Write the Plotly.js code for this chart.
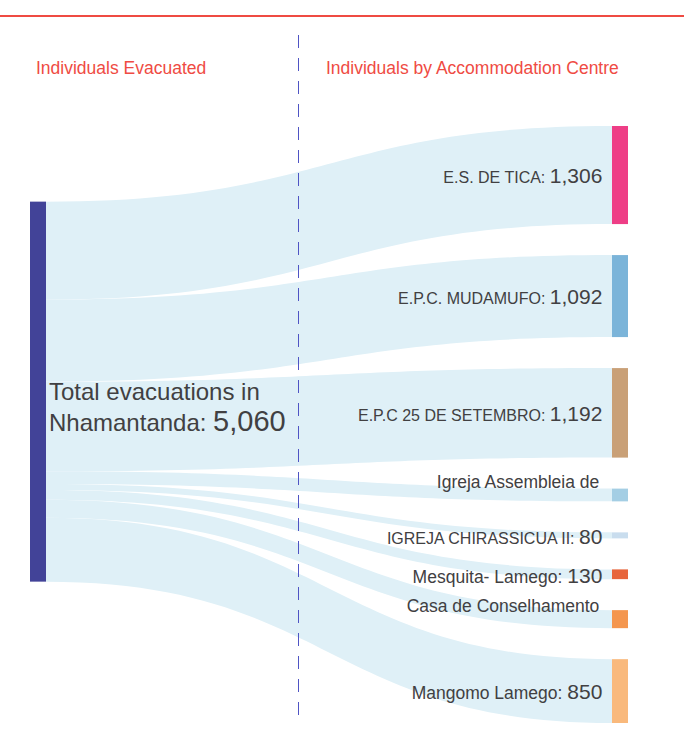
<!DOCTYPE html>
<html>
<head>
<meta charset="utf-8">
<script src="https://cdn.plot.ly/plotly-3.0.1.min.js"></script>
<style>
  html, body { margin: 0; padding: 0; background: #ffffff; }
  #chart { width: 684px; height: 740px; }
</style>
</head>
<body>
<div id="chart"></div>
<script>
// ---- data ----
const sourceLines = ["Total evacuations in", "Nhamantanda"];
const sourceTotal = 5060;
const centreNames = [
  "E.S. DE TICA",
  "E.P.C. MUDAMUFO",
  "E.P.C 25 DE SETEMBRO",
  "Igreja Assembleia de",
  "IGREJA CHIRASSICUA II",
  "Mesquita- Lamego",
  "Casa de Conselhamento",
  "Mangomo Lamego"
];
const centreValues = [1306, 1092, 1192, 170, 80, 130, 240, 850];
const valueShown = [true, true, true, false, true, true, false, true];
const headerLeft = "Individuals Evacuated";
const headerRight = "Individuals by Accommodation Centre";

// ---- styling ----
const nodeColors = ["#424398", "#ee3e86", "#7bb4d9", "#c9a077", "#a4cee4", "#c9ddee", "#e7653c", "#f4964e", "#f9b97c"];
const linkColor = "#dff0f7";
const red = "#ef4b43";
const textColor = "#414042";
const FONT = "'Liberation Sans', Arial, sans-serif";
const NBSP = "\u00a0";

const fmt = v => v.toLocaleString("en-US");
// condensed original font: upper-case names are relatively narrower
const nameSize = n => (n === n.toUpperCase() ? 16 : 17.5);

const labels = [
  NBSP + "<br>" + sourceLines[0] + "<br>" + sourceLines[1] + ': <span style="font-size:29px">' + fmt(sourceTotal) + "</span>"
].concat(centreNames.map((n, i) =>
  valueShown[i]
    ? '<span style="font-size:' + nameSize(n) + 'px">' + n + ': </span><span style="font-size:21px">' + fmt(centreValues[i]) + "</span>" + NBSP
    : '<span style="font-size:' + nameSize(n) + 'px">' + n + NBSP + NBSP + "</span><br>" + NBSP
));

const sources = centreValues.map(() => 0);
const targets = centreValues.map((_, i) => i + 1);

// ---- geometry (pixels) ----
const W = 684, H = 740;
const plotLeft = 30, plotRight = 628, plotTop = 126, plotBottom = 723;
const thick = 16, pad = 31;
const domW = plotRight - plotLeft, domH = plotBottom - plotTop;
const px = x => x / W;
const py = y => 1 - y / H;

// node positions follow the same value scale the sankey layout uses
const ky = (domH - (centreValues.length - 1) * pad) / sourceTotal;
const nodeX = [thick / 2 / domW], nodeY = [];
let acc = 0, weighted = 0;
centreValues.forEach((v, i) => {
  const centre = acc + v * ky / 2;
  nodeX.push((domW - thick / 2) / domW);
  nodeY.push(centre / domH);
  weighted += centre * v;
  acc += v * ky + pad;
});
nodeY.unshift(weighted / sourceTotal / domH);

const trace = {
  type: "sankey",
  orientation: "h",
  arrangement: "fixed",
  domain: { x: [px(plotLeft), px(plotRight)], y: [py(plotBottom), py(plotTop)] },
  hoverinfo: "none",
  textfont: { family: FONT, size: 24, color: textColor, shadow: "none" },
  node: {
    label: labels,
    color: nodeColors,
    x: nodeX,
    y: nodeY,
    pad: pad,
    thickness: thick,
    line: { width: 0 },
    hoverinfo: "none"
  },
  link: {
    source: sources,
    target: targets,
    value: centreValues,
    color: centreValues.map(() => linkColor),
    line: { width: 0 },
    hoverinfo: "none"
  }
};

const layout = {
  width: W,
  height: H,
  margin: { l: 0, r: 0, t: 0, b: 0 },
  paper_bgcolor: "#ffffff",
  plot_bgcolor: "#ffffff",
  font: { family: FONT, color: textColor },
  showlegend: false,
  shapes: [
    { type: "line", xref: "paper", yref: "paper", x0: 0, x1: 1, y0: py(16), y1: py(16),
      line: { color: red, width: 2 }, layer: "above" },
    { type: "line", xref: "paper", yref: "paper", x0: px(298.5), x1: px(298.5), y0: py(35), y1: py(722),
      line: { color: "#4f54c4", width: 1, dash: "13px,10px" }, layer: "above" }
  ],
  annotations: [
    { text: headerLeft, xref: "paper", yref: "paper", x: px(34), y: py(68), xanchor: "left", yanchor: "middle",
      showarrow: false, font: { family: FONT, size: 17.5, color: red } },
    { text: headerRight, xref: "paper", yref: "paper", x: px(324), y: py(68), xanchor: "left", yanchor: "middle",
      showarrow: false, font: { family: FONT, size: 17.5, color: red } }
  ]
};

Plotly.newPlot("chart", [trace], layout, { displayModeBar: false, staticPlot: true });
</script>
</body>
</html>
